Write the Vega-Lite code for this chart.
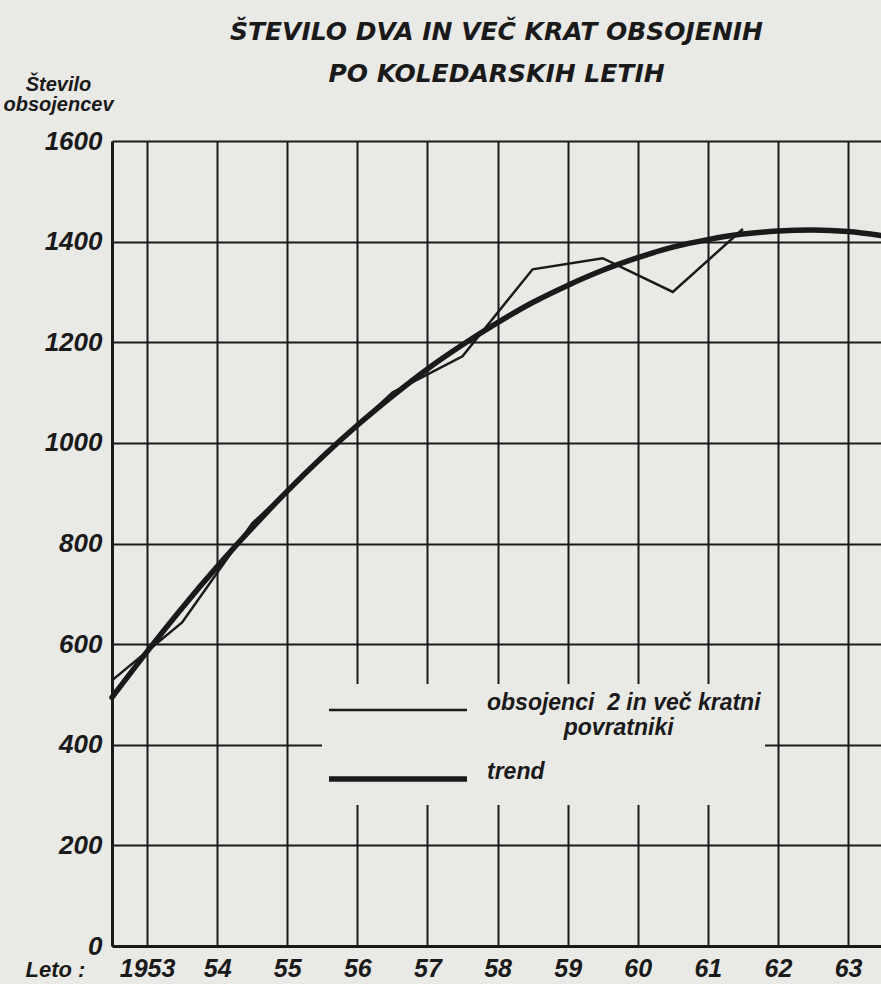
{
  "$schema": "https://vega.github.io/schema/vega-lite/v6.json",
  "width": 769,
  "height": 805,
  "autosize": {"type": "none"},
  "padding": {"left": 112, "top": 141, "right": 0, "bottom": 38},
  "background": "#e9e9e6",
  "config": {"view": {"stroke": null}},
  "title": {
    "text": ["ŠTEVILO DVA IN VEČ KRAT OBSOJENIH", "PO KOLEDARSKIH LETIH"],
    "font": "DejaVu Sans",
    "fontSize": 25,
    "fontWeight": "bold",
    "fontStyle": "italic",
    "lineHeight": 42,
    "anchor": "middle",
    "offset": -13,
    "color": "#1a1a1a"
  },
  "data": {
    "values": [
      {"series": "actual", "year": 1952.5, "value": 528},
      {"series": "actual", "year": 1953.5, "value": 643},
      {"series": "actual", "year": 1954.5, "value": 840},
      {"series": "actual", "year": 1955.5, "value": 970},
      {"series": "actual", "year": 1956.5, "value": 1100},
      {"series": "actual", "year": 1957.5, "value": 1172},
      {"series": "actual", "year": 1958.5, "value": 1345},
      {"series": "actual", "year": 1959.5, "value": 1367},
      {"series": "actual", "year": 1960.5, "value": 1300},
      {"series": "actual", "year": 1961.5, "value": 1425},
      {"series": "trend", "year": 1952.5, "value": 494},
      {"series": "trend", "year": 1953, "value": 585},
      {"series": "trend", "year": 1953.5, "value": 672},
      {"series": "trend", "year": 1954, "value": 754},
      {"series": "trend", "year": 1954.5, "value": 831},
      {"series": "trend", "year": 1955, "value": 904},
      {"series": "trend", "year": 1955.5, "value": 972},
      {"series": "trend", "year": 1956, "value": 1035},
      {"series": "trend", "year": 1956.5, "value": 1093},
      {"series": "trend", "year": 1957, "value": 1147},
      {"series": "trend", "year": 1957.5, "value": 1195},
      {"series": "trend", "year": 1958, "value": 1239},
      {"series": "trend", "year": 1958.5, "value": 1279},
      {"series": "trend", "year": 1959, "value": 1313},
      {"series": "trend", "year": 1959.5, "value": 1343},
      {"series": "trend", "year": 1960, "value": 1368},
      {"series": "trend", "year": 1960.5, "value": 1389},
      {"series": "trend", "year": 1961, "value": 1404},
      {"series": "trend", "year": 1961.5, "value": 1415},
      {"series": "trend", "year": 1962, "value": 1421},
      {"series": "trend", "year": 1962.5, "value": 1423},
      {"series": "trend", "year": 1963, "value": 1420},
      {"series": "trend", "year": 1963.47, "value": 1412}
    ]
  },
  "encoding": {
    "x": {
      "field": "year",
      "type": "quantitative",
      "scale": {"domain": [1952.5, 1963.47], "nice": false, "zero": false},
      "axis": {
        "values": [1953, 1954, 1955, 1956, 1957, 1958, 1959, 1960, 1961, 1962, 1963],
        "labelExpr": "datum.value == 1953 ? '1953' : substring(toString(datum.value), 2)",
        "labelFont": "Liberation Sans",
        "labelFontSize": 25,
        "labelFontStyle": "italic",
        "labelFontWeight": "bold",
        "labelColor": "#1a1a1a",
        "labelPadding": 10,
        "labelFlush": false,
        "labelOverlap": false,
        "ticks": false,
        "domainColor": "#1a1a1a",
        "domainWidth": 3,
        "grid": true,
        "gridColor": "#1a1a1a",
        "gridWidth": 2,
        "gridOpacity": 1,
        "title": "Leto :",
        "titleFont": "Liberation Sans",
        "titleFontSize": 22,
        "titleFontStyle": "italic",
        "titleFontWeight": "bold",
        "titleColor": "#1a1a1a",
        "titleAlign": "left",
        "titleBaseline": "alphabetic",
        "titleX": -87,
        "titleY": 30
      }
    },
    "y": {
      "field": "value",
      "type": "quantitative",
      "scale": {"domain": [0, 1600], "nice": false},
      "axis": {
        "values": [0, 200, 400, 600, 800, 1000, 1200, 1400, 1600],
        "format": "d",
        "labelFont": "Liberation Sans",
        "labelFontSize": 26,
        "labelFontStyle": "italic",
        "labelFontWeight": "bold",
        "labelColor": "#1a1a1a",
        "labelPadding": 10,
        "labelFlush": false,
        "labelOverlap": false,
        "ticks": false,
        "domainColor": "#1a1a1a",
        "domainWidth": 3,
        "grid": true,
        "gridColor": "#1a1a1a",
        "gridWidth": 2,
        "gridOpacity": 1,
        "title": ["Število", "obsojencev"],
        "titleFont": "Liberation Sans",
        "titleFontSize": 20,
        "titleFontStyle": "italic",
        "titleFontWeight": "bold",
        "titleColor": "#1a1a1a",
        "titleAngle": 0,
        "titleAlign": "center",
        "titleBaseline": "alphabetic",
        "titleLineHeight": 20,
        "titleX": -54,
        "titleY": -51
      }
    },
    "stroke": {
      "field": "series",
      "type": "nominal",
      "scale": {"domain": ["actual", "trend"], "range": ["#1a1a1a", "#1a1a1a"]},
      "legend": {
        "orient": "none",
        "legendX": 210,
        "legendY": 543,
        "title": null,
        "symbolType": "stroke",
        "symbolSize": 19044,
        "clipHeight": 44,
        "labelFont": "Liberation Sans",
        "labelFontSize": 23,
        "labelFontStyle": "italic",
        "labelFontWeight": "bold",
        "labelColor": "#1a1a1a",
        "labelOffset": 17,
        "labelBaseline": "alphabetic",
        "labelLimit": 0,
        "fillColor": "#e9e9e6",
        "padding": 4,
        "rowPadding": 17,
        "labelExpr": "datum.label == 'trend' ? 'trend' : ['obsojenci\u00a0\u00a02 in več kratni', '\u200b\u00a0\u00a0\u00a0\u00a0\u00a0\u00a0\u00a0\u00a0\u00a0\u00a0\u00a0\u00a0povratniki']"
      }
    },
    "strokeWidth": {
      "field": "series",
      "type": "nominal",
      "scale": {"domain": ["actual", "trend"], "range": [2.5, 5.5]}
    }
  },
  "layer": [
    {
      "transform": [{"filter": "datum.series == 'trend'"}],
      "mark": {"type": "line", "interpolate": "monotone", "strokeCap": "round"}
    },
    {
      "transform": [{"filter": "datum.series == 'actual'"}],
      "mark": {"type": "line", "interpolate": "linear", "strokeJoin": "miter"}
    }
  ]
}
